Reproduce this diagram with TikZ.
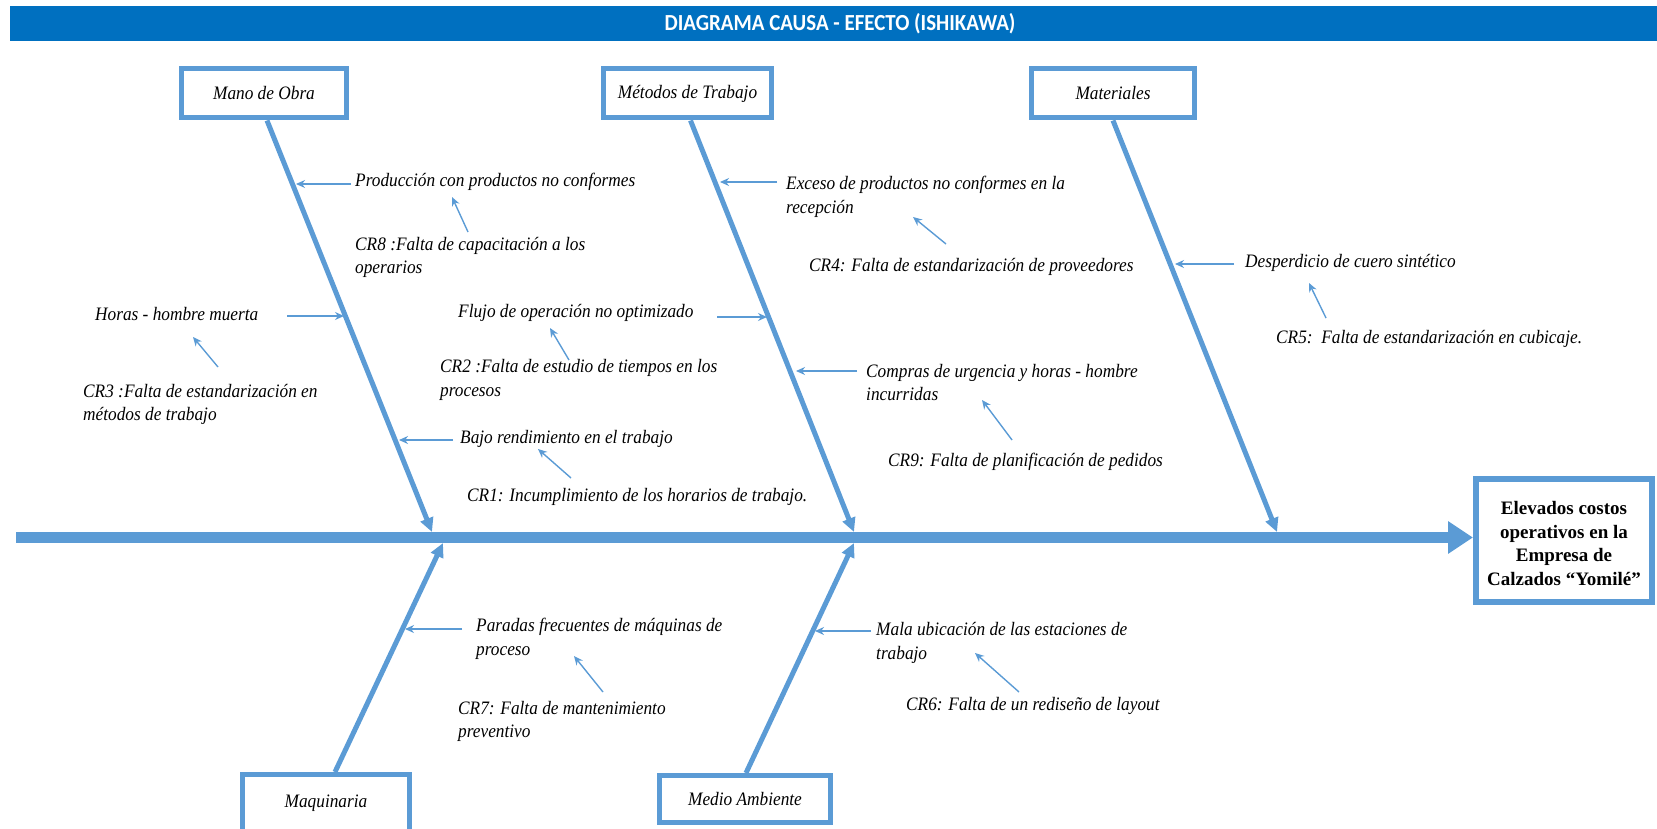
\documentclass[tikz,border=0pt]{standalone}
\usepackage{fontspec}
\setmainfont{Liberation Serif}
\newfontfamily\labelfont[FakeStretch=0.91]{Liberation Serif}
\newfontfamily\headfont[FakeStretch=0.91]{Carlito}
\usetikzlibrary{arrows.meta,calc}
\definecolor{fishblue}{HTML}{5B9BD5}
\definecolor{barblue}{HTML}{0070C0}

\tikzset{
  catbox/.style={draw=fishblue, line width=5pt, inner sep=0pt, minimum height=49pt,
    font=\labelfont\itshape\fontsize{19}{23.5}\selectfont},
  cause/.style={anchor=west, inner sep=0pt, align=left,
    font=\labelfont\itshape\fontsize{19}{23.5}\selectfont},
  spine/.style={draw=fishblue, line width=11pt, -{Triangle[length=25pt,width=31pt]}},
  rib/.style={draw=fishblue, line width=5pt, -{Triangle[length=14pt,width=13pt]}},
  pointer/.style={draw=fishblue, line width=1.4pt, -{Stealth[length=9pt,width=8pt]}},
}

\begin{document}
\begin{tikzpicture}[x=1pt,y=-1pt]
\useasboundingbox (0,0) rectangle (1657,829);

% title bar
\fill[barblue] (10,6) rectangle (1657,41);
\node[text=white, font=\headfont\bfseries\fontsize{23}{26}\selectfont] (title) at (840,23.5)
  {DIAGRAMA CAUSA - EFECTO (ISHIKAWA)};

% effect box and spine
\node[draw=fishblue, line width=6pt, minimum width=176pt, minimum height=123pt,
  inner sep=0pt] (effect) at (1564,540.5) {};
\node[align=center, inner sep=0pt, font=\bfseries\fontsize{19}{23.5}\selectfont]
  (effecttext) at ([yshift=-3pt]effect.center)
  {Elevados costos\\operativos en la\\Empresa de\\Calzados “Yomilé”};
\coordinate (tail) at (16,537.5);
\draw[spine] (tail) -- (tail -| effect.west);

% category boxes
\node[catbox, minimum width=165pt] (mano) at (264,93.5) {Mano de Obra};
\node[catbox, minimum width=168pt] (metodos) at (687.5,93.5) {Métodos de Trabajo};
\node[catbox, minimum width=163pt] (materiales) at (1113,93.5) {Materiales};
\node[catbox, minimum width=167pt, minimum height=57pt] (maquinaria) at (326,803) {Maquinaria};
\node[catbox, minimum width=171pt, minimum height=47pt] (medio) at (745,799) {Medio Ambiente};

% rib ends on the spine
\coordinate (manotip) at (432,532);
\coordinate (mettip) at (854,532);
\coordinate (mattip) at (1277,532);
\coordinate (maqtip) at (443,543);
\coordinate (medtip) at (854,543);

\draw[rib] ([xshift=3pt]mano.south) -- (manotip);
\draw[rib] ([xshift=3pt]metodos.south) -- (mettip);
\draw[rib] (materiales.south) -- (mattip);
\draw[rib] ([xshift=9pt]maquinaria.north) -- (maqtip);
\draw[rib] ([xshift=1pt]medio.north) -- (medtip);

% cause texts
\node[cause] (prod) at (355,182) {Producción con productos no conformes};
\node[cause] (cr8) at (355,257.5) {CR8 :Falta de capacitación a los\\operarios};
\node[cause] (horas) at (95,314) {Horas - hombre muerta};
\node[cause] (cr3) at (83,404.5) {CR3 :Falta de estandarización en\\métodos de trabajo};
\node[cause] (flujo) at (458,313) {Flujo de operación no optimizado};
\node[cause] (cr2) at (440,380) {CR2 :Falta de estudio de tiempos en los\\procesos};
\node[cause] (bajo) at (460,439) {Bajo rendimiento en el trabajo};
\node[cause] (cr1) at (467,497) {CR1: Incumplimiento de los horarios de trabajo.};
\node[cause] (exceso) at (786,197) {Exceso de productos no conformes en la\\recepción};
\node[cause] (cr4) at (809,267) {CR4: Falta de estandarización de proveedores};
\node[cause] (compras) at (866,382.5) {Compras de urgencia y horas - hombre\\incurridas};
\node[cause] (cr9) at (888,462) {CR9: Falta de planificación de pedidos};
\node[cause] (desp) at (1245,263) {Desperdicio de cuero sintético};
\node[cause] (cr5) at (1276,339) {CR5:\ \ Falta de estandarización en cubicaje.};
\node[cause] (paradas) at (476,639) {Paradas frecuentes de máquinas de\\proceso};
\node[cause] (cr7) at (458,721.5) {CR7: Falta de mantenimiento\\preventivo};
\node[cause] (mala) at (876,643) {Mala ubicación de las estaciones de\\trabajo};
\node[cause] (cr6) at (906,706) {CR6: Falta de un rediseño de layout};

% pointers from causes to ribs
\coordinate (prodA) at (351,184);   \coordinate (prodB) at (296,184);
\coordinate (horasA) at (287,316);  \coordinate (horasB) at (344,316);
\coordinate (bajoA) at (453,440);   \coordinate (bajoB) at (399,440);
\coordinate (flujoA) at (717,317);  \coordinate (flujoB) at (767,317);
\coordinate (excesoA) at (777,182); \coordinate (excesoB) at (720,182);
\coordinate (comprasA) at (857,371);\coordinate (comprasB) at (796,371);
\coordinate (despA) at (1234,264);  \coordinate (despB) at (1175,264);
\coordinate (paradasA) at (462,629);\coordinate (paradasB) at (405,629);
\coordinate (malaA) at (871,631);   \coordinate (malaB) at (815,631);
\foreach \p in {prod,horas,bajo,flujo,exceso,compras,desp,paradas,mala}
  \draw[pointer] (\p A) -- (\p B);

% pointers from root causes to effects
\coordinate (cr8A) at (468,232);  \coordinate (cr8B) at (452,197);
\coordinate (cr3A) at (218,367);  \coordinate (cr3B) at (193,337);
\coordinate (cr2A) at (569,360);  \coordinate (cr2B) at (550,328);
\coordinate (cr1A) at (571,478);  \coordinate (cr1B) at (538,449);
\coordinate (cr4A) at (946,244);  \coordinate (cr4B) at (913,217);
\coordinate (cr9A) at (1012,440); \coordinate (cr9B) at (982,400);
\coordinate (cr5A) at (1326,318); \coordinate (cr5B) at (1309,283);
\coordinate (cr7A) at (603,692);  \coordinate (cr7B) at (574,656);
\coordinate (cr6A) at (1019,692); \coordinate (cr6B) at (975,653);
\foreach \p in {cr8,cr3,cr2,cr1,cr4,cr9,cr5,cr7,cr6}
  \draw[pointer] (\p A) -- (\p B);
\end{tikzpicture}
\end{document}
